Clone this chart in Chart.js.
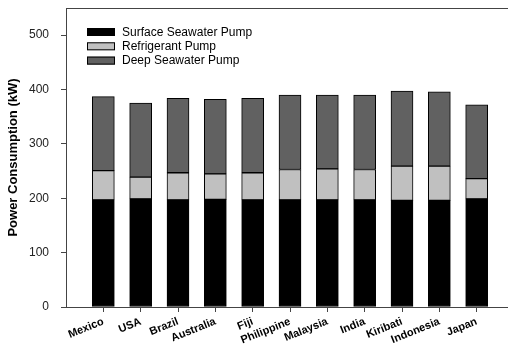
<!DOCTYPE html>
<html>
<head>
<meta charset="utf-8">
<script src="https://cdn.jsdelivr.net/npm/chart.js@4/dist/chart.umd.min.js"></script>
<style>
  html, body { margin: 0; padding: 0; background: #fff; overflow: hidden; }
  #wrap { width: 514px; height: 352px; }
</style>
</head>
<body>
<div id="wrap"><canvas id="c" width="514" height="352"></canvas></div>
<script>
// Power consumption per pump type at each site (kW)
const categories = ['Mexico', 'USA', 'Brazil', 'Australia', 'Fiji', 'Philippine',
                    'Malaysia', 'India', 'Kiribati', 'Indonesia', 'Japan'];
const surfacePump     = [197, 199, 197, 198, 197, 197, 197, 197, 196, 196, 199];
const refrigerantPump = [ 54,  40,  50,  47,  50,  56,  57,  56,  63,  63,  37];
const deepPump        = [136, 136, 137, 137, 137, 137, 136, 137, 138, 137, 136];
const yTicks = [0, 100, 200, 300, 400, 500];
const seriesNames = ['Surface Seawater Pump', 'Refrigerant Pump', 'Deep Seawater Pump'];
const seriesColors = ['#000000', '#c0c0c0', '#616161'];

const toPoints = arr => arr.map((v, i) => ({ x: i + 1, y: v }));

// Legend drawn inside the plot area, top-left
const insideLegend = {
  id: 'insideLegend',
  afterDraw(chart) {
    const ctx = chart.ctx;
    const x0 = chart.chartArea.left + 21;
    const y0 = chart.chartArea.top + 24;
    ctx.save();
    ctx.font = '12px "Liberation Sans", Arial, sans-serif';
    ctx.textBaseline = 'middle';
    chart.data.datasets.forEach((ds, i) => {
      const y = y0 + i * 14.3;
      ctx.fillStyle = ds.backgroundColor;
      ctx.fillRect(x0, y - 4, 28, 8);
      ctx.strokeStyle = '#000';
      ctx.lineWidth = 1;
      ctx.strokeRect(x0 + 0.5, y - 3.5, 27, 7);
      ctx.fillStyle = '#000';
      ctx.fillText(ds.label, x0 + 35, y + 0.5);
    });
    ctx.restore();
  }
};

// Top frame line of the plot area
const topFrame = {
  id: 'topFrame',
  afterDraw(chart) {
    const { ctx, chartArea } = chart;
    ctx.save();
    ctx.strokeStyle = '#444';
    ctx.lineWidth = 1;
    ctx.beginPath();
    ctx.moveTo(chartArea.left, Math.round(chartArea.top) + 0.5);
    ctx.lineTo(chartArea.right, Math.round(chartArea.top) + 0.5);
    ctx.stroke();
    ctx.restore();
  }
};

new Chart(document.getElementById('c'), {
  type: 'bar',
  data: {
    datasets: [surfacePump, refrigerantPump, deepPump].map((arr, i) => ({
      label: seriesNames[i],
      data: toPoints(arr),
      backgroundColor: seriesColors[i],
      borderColor: '#000',
      borderWidth: 1,
      borderSkipped: false,
      barThickness: 22
    }))
  },
  options: {
    responsive: false,
    animation: false,
    devicePixelRatio: 1,
    layout: { padding: { top: 8, left: 0, right: 0, bottom: 0 } },
    plugins: { legend: { display: false }, tooltip: { enabled: false } },
    scales: {
      x: {
        type: 'linear',
        min: 0,
        max: 12,
        offset: false,
        stacked: true,
        afterBuildTicks(scale) {
          scale.ticks = categories.map((c, i) => ({ value: i + 1 }));
        },
        afterFit(scale) {
          scale.height = 45;
          scale.paddingLeft = 0;
          scale.paddingRight = 0;
        },
        grid: { offset: false, drawOnChartArea: false, drawTicks: true, tickLength: 5, color: '#444' },
        border: { display: true, color: '#444', width: 1 },
        ticks: {
          autoSkip: false,
          minRotation: 22,
          maxRotation: 22,
          padding: 3,
          color: '#000',
          font: { family: '"Liberation Sans", Arial, sans-serif', size: 11, weight: 'bold' },
          callback: v => categories[v - 1] || ''
        }
      },
      y: {
        min: 0,
        max: 550,
        stacked: true,
        afterBuildTicks(scale) {
          scale.ticks = yTicks.map(v => ({ value: v }));
        },
        afterFit(scale) {
          scale.width = 66;
          scale.paddingTop = 0;
          scale.paddingBottom = 0;
        },
        grid: { drawOnChartArea: false, drawTicks: true, tickLength: 5, color: '#444' },
        border: { display: true, color: '#444', width: 1 },
        ticks: {
          padding: 12,
          color: '#222',
          font: { family: '"Liberation Sans", Arial, sans-serif', size: 12 }
        },
        title: {
          display: true,
          text: 'Power Consumption (kW)',
          color: '#000',
          padding: { top: 6, bottom: 0 },
          font: { family: '"Liberation Sans", Arial, sans-serif', size: 13, weight: 'bold' }
        }
      }
    }
  },
  plugins: [insideLegend, topFrame]
});
</script>
</body>
</html>
